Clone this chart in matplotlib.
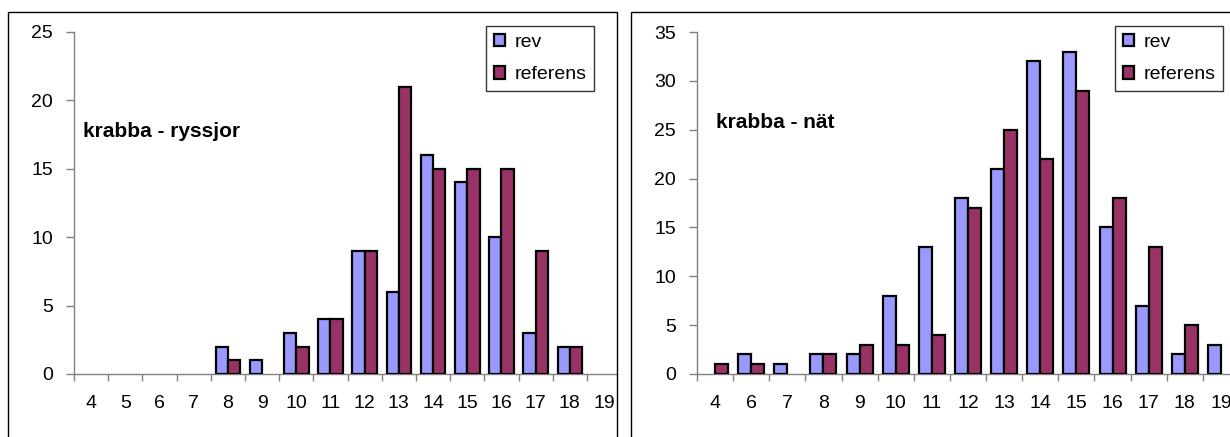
import matplotlib.pyplot as plt
import matplotlib.patches as mpatches
import numpy as np

plt.rcParams['font.family'] = ['Liberation Sans', 'DejaVu Sans']

# krabba - ryssjor
cats_ryssjor = ['4', '5', '6', '7', '8', '9', '10', '11', '12', '13', '14', '15', '16', '17', '18', '19']
rev_ryssjor = [0, 0, 0, 0, 2, 1, 3, 4, 9, 6, 16, 14, 10, 3, 2, 0]
ref_ryssjor = [0, 0, 0, 0, 1, 0, 2, 4, 9, 21, 15, 15, 15, 9, 2, 0]

# krabba - nät
cats_nat = ['4', '6', '7', '8', '9', '10', '11', '12', '13', '14', '15', '16', '17', '18', '19']
rev_nat = [0, 2, 1, 2, 2, 8, 13, 18, 21, 32, 33, 15, 7, 2, 3]
ref_nat = [1, 1, 0, 2, 3, 3, 4, 17, 25, 22, 29, 18, 13, 5, 0]

C_REV = '#9999FF'
C_REF = '#993366'
W, H = 1230, 437

fig = plt.figure(figsize=(W / 100, H / 100), dpi=100)

# panel frames (Excel chart areas)
fig.patches.append(mpatches.Rectangle((8 / W, -0.1), (617 - 8) / W, 1.1 - 12 / H,
                                      transform=fig.transFigure, fill=False,
                                      edgecolor='black', lw=1, zorder=0))
fig.patches.append(mpatches.Rectangle((631 / W, -0.1), 0.6, 1.1 - 12 / H,
                                      transform=fig.transFigure, fill=False,
                                      edgecolor='black', lw=1, zorder=0))


def draw(rect, cats, rev, ref, ymax, xmax, title, tpos, legx):
    ax = fig.add_axes(rect)
    x = np.arange(len(cats))
    rev = np.array(rev)
    ref = np.array(ref)
    bw = 0.36
    m = rev > 0
    ax.bar(x[m] - bw / 2, rev[m], bw, color=C_REV, edgecolor='black', lw=1.6, zorder=3)
    m = ref > 0
    ax.bar(x[m] + bw / 2, ref[m], bw, color=C_REF, edgecolor='black', lw=1.6, zorder=3)

    ax.set_xlim(-0.5, xmax)
    ax.set_ylim(0, ymax)
    ax.set_xticks(x, cats)
    ax.set_xticks(np.arange(len(cats)) - 0.5, minor=True)
    ax.tick_params(axis='x', which='major', length=0, pad=15, labelsize=14)
    ax.tick_params(axis='x', which='minor', length=5, width=1, color='#808080')
    ax.set_yticks(np.arange(0, ymax + 1, 5))
    ax.tick_params(axis='y', length=6, width=1, color='#808080', pad=9, labelsize=14)
    for s in ['top', 'right']:
        ax.spines[s].set_visible(False)
    for s in ['left', 'bottom']:
        ax.spines[s].set_color('#808080')
        ax.spines[s].set_linewidth(1)
    ax.patch.set_alpha(0)

    ax.text(tpos[0], tpos[1], title, transform=ax.transAxes, fontsize=15,
            fontweight='bold', va='center', ha='left')

    handles = [mpatches.Patch(facecolor=C_REV, edgecolor='black', lw=1.6, label='rev'),
               mpatches.Patch(facecolor=C_REF, edgecolor='black', lw=1.6, label='referens')]
    leg = ax.legend(handles=handles, loc='upper left', bbox_to_anchor=(legx / W, 1 - 26 / H),
                    bbox_transform=fig.transFigure, fontsize=14, frameon=True, fancybox=False,
                    handlelength=0.6, handleheight=0.6, handletextpad=0.45,
                    labelspacing=0.8, borderpad=0.4, borderaxespad=0)
    leg.get_frame().set_edgecolor('black')
    leg.get_frame().set_linewidth(1)
    return ax


draw([74 / W, 63 / H, 543 / W, 342 / H], cats_ryssjor, rev_ryssjor, ref_ryssjor,
     25, 15.38, 'krabba - ryssjor', (0.016, 0.71), 486)
draw([697 / W, 63 / H, 533 / W, 342 / H], cats_nat, rev_nat, ref_nat,
     35, 14.25, 'krabba - nät', (0.036, 0.734), 1115)

plt.savefig('out.png', dpi=100)
